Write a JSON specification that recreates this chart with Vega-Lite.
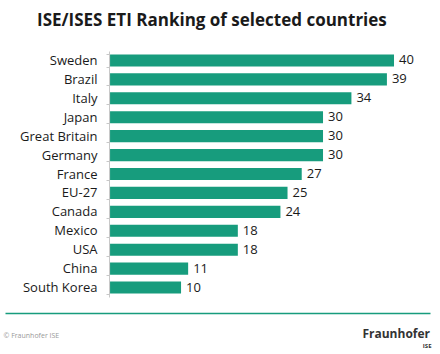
{
  "$schema": "https://vega.github.io/schema/vega-lite/v6.json",
  "width": 425,
  "height": 246,
  "autosize": {"type": "none"},
  "padding": {"left": 5, "top": 51, "right": 10, "bottom": 57},
  "background": "white",
  "config": {"view": {"stroke": null}},
  "title": {
    "text": "ISE/ISES ETI Ranking of selected countries",
    "anchor": "start",
    "frame": "group",
    "dx": 32,
    "offset": 2,
    "baseline": "alphabetic",
    "fontSize": 17,
    "font": "Open Sans",
    "fontWeight": "bold",
    "color": "#1a1a1a"
  },
  "data": {
    "values": [
      {"country": "Sweden", "score": 40},
      {"country": "Brazil", "score": 39},
      {"country": "Italy", "score": 34},
      {"country": "Japan", "score": 30},
      {"country": "Great Britain", "score": 30},
      {"country": "Germany", "score": 30},
      {"country": "France", "score": 27},
      {"country": "EU-27", "score": 25},
      {"country": "Canada", "score": 24},
      {"country": "Mexico", "score": 18},
      {"country": "USA", "score": 18},
      {"country": "China", "score": 11},
      {"country": "South Korea", "score": 10}
    ]
  },
  "encoding": {
    "y": {
      "field": "country",
      "type": "nominal",
      "sort": null,
      "scale": {"paddingInner": 0.36, "paddingOuter": 0.18},
      "axis": {
        "title": "ISE",
        "titleX": 322,
        "titleY": 296,
        "titleAngle": 0,
        "titleAlign": "right",
        "titleBaseline": "alphabetic",
        "titleFontSize": 6,
        "titleFont": "Open Sans",
        "titleFontWeight": "bold",
        "titleColor": "#333333",
        "offset": -104,
        "domainColor": "#c8c8c8",
        "tickColor": "#c8c8c8",
        "tickSize": 3,
        "tickBand": "extent",
        "labelFontSize": 13,
        "labelFont": "Open Sans",
        "labelColor": "#1a1a1a",
        "labelPadding": 9
      }
    },
    "x": {
      "field": "score",
      "type": "quantitative",
      "scale": {"domain": [-14.8, 45.07], "nice": false, "zero": false},
      "axis": {
        "values": [45],
        "labelExpr": "'Fraunhofer'",
        "ticks": false,
        "grid": false,
        "domainColor": "#179c7d",
        "domainWidth": 1.5,
        "offset": 16,
        "labelAlign": "right",
        "labelBaseline": "alphabetic",
        "labelPadding": 24,
        "labelFontSize": 12,
        "labelFontWeight": "bold",
        "labelFont": "Open Sans",
        "labelColor": "#333333",
        "labelFlush": false,
        "labelBound": false,
        "labelOverlap": false,
        "title": "© Fraunhofer ISE",
        "titleX": -2,
        "titleY": 24,
        "titleAlign": "left",
        "titleBaseline": "alphabetic",
        "titleFontSize": 7,
        "titleFont": "Open Sans",
        "titleFontWeight": "normal",
        "titleColor": "#999999"
      }
    }
  },
  "layer": [
    {
      "mark": {"type": "bar", "color": "#179c7d"},
      "encoding": {"x2": {"datum": 0}}
    },
    {
      "mark": {"type": "text", "align": "left", "dx": 5, "fontSize": 13, "font": "Open Sans", "color": "#1a1a1a"},
      "encoding": {"text": {"field": "score", "type": "quantitative"}}
    }
  ]
}
